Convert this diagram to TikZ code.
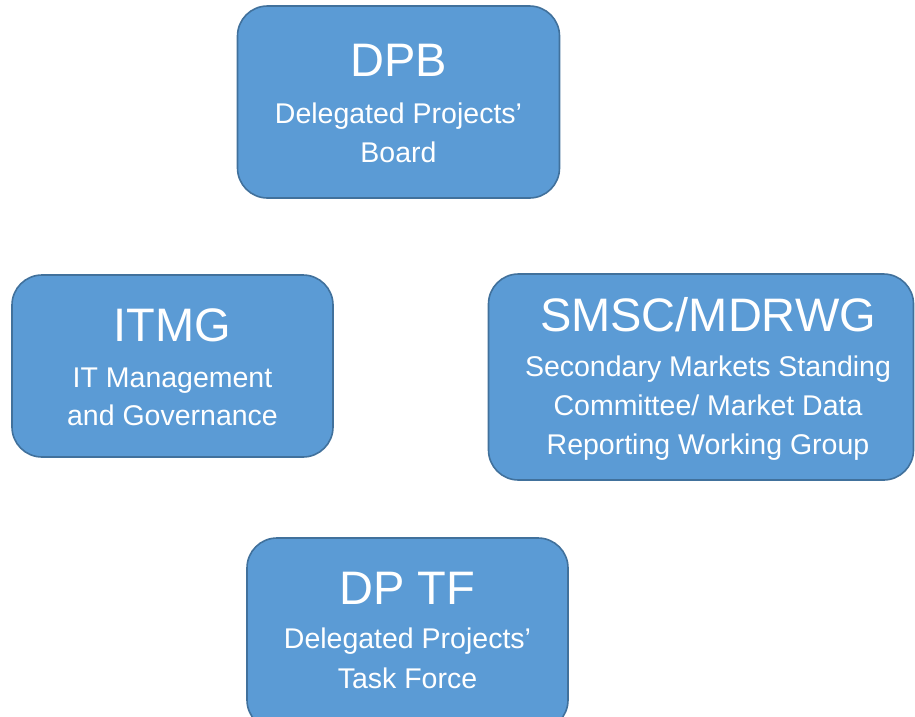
\documentclass[tikz,border=0pt]{standalone}
\usepackage{fontspec}
\setmainfont{Liberation Sans}
\definecolor{boxfill}{HTML}{5B9BD5}
\definecolor{boxline}{HTML}{41719C}
\begin{document}
\begin{tikzpicture}[x=1pt,y=-1pt,
  orgbox/.style={draw=boxline,fill=boxfill,line width=1.6pt,rounded corners=30pt,
    rectangle,inner sep=0pt},
  ttl/.style={anchor=base,text=white,inner sep=0pt,font=\fontsize{47}{50}\selectfont},
  sub/.style={anchor=base,text=white,inner sep=0pt,font=\fontsize{28.5}{32}\selectfont}]
\useasboundingbox (0,0) rectangle (915,716);
\begin{scope}
\clip (0,0) rectangle (915,716);
% DPB
\node[orgbox,minimum width=322pt,minimum height=192pt] (dpb) at (398.5,102) {};
\node[ttl] (dpbt) at (398.5,76) {DPB};
\node[sub] (dpb1) at (398.5,123) {Delegated Projects’};
\node[sub] (dpb2) at (398.5,162) {Board};
% ITMG
\node[orgbox,minimum width=321pt,minimum height=182pt] (itmg) at (172.5,366) {};
\node[ttl] (itmgt) at (172.5,341) {ITMG};
\node[sub] (itmg1) at (172.5,387) {IT Management};
\node[sub] (itmg2) at (172.5,425) {and Governance};
% SMSC
\node[orgbox,minimum width=425pt,minimum height=206pt] (smsc) at (701,377) {};
\node[ttl] (smsct) at (708,331) {SMSC/MDRWG};
\node[sub] (smsc1) at (708,376) {Secondary Markets Standing};
\node[sub] (smsc2) at (708,415) {Committee/ Market Data};
\node[sub] (smsc3) at (708,454) {Reporting Working Group};
% DP TF
\node[orgbox,minimum width=321pt,minimum height=192pt] (dptf) at (407.5,634) {};
\node[ttl] (dptft) at (407.5,604) {DP TF};
\node[sub] (dptf1) at (407.5,648) {Delegated Projects’};
\node[sub] (dptf2) at (407.5,688) {Task Force};
\end{scope}
\end{tikzpicture}
\end{document}
